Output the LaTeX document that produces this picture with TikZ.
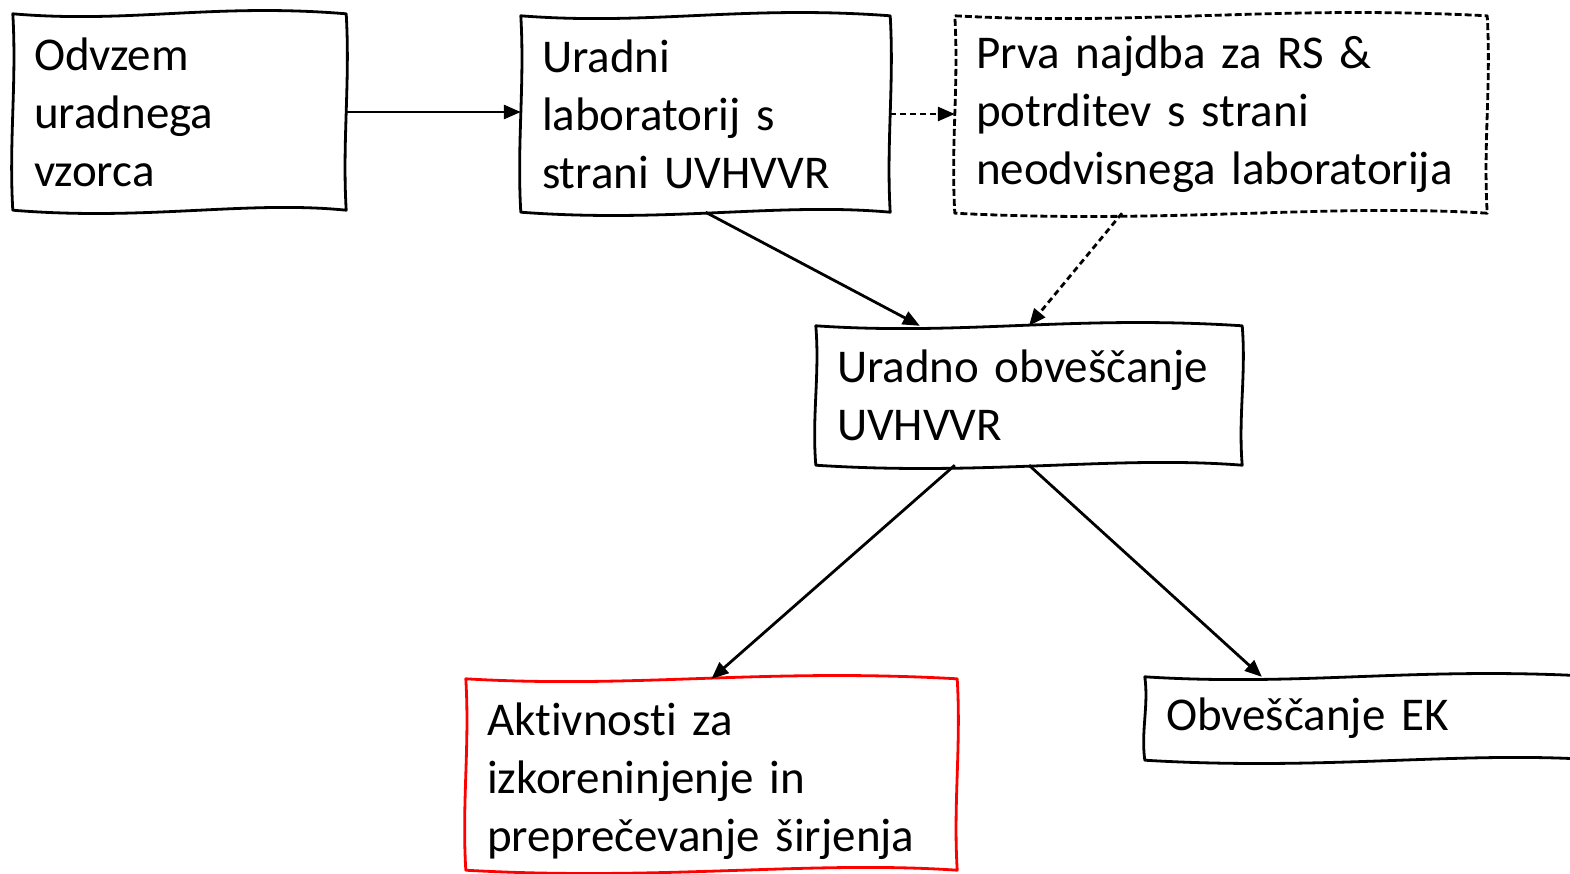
\documentclass[tikz,border=0pt]{standalone}
\usepackage{fontspec}
\setmainfont{Carlito}[Ligatures=NoCommon]
\usetikzlibrary{calc,arrows.meta}
\definecolor{boxred}{RGB}{255,0,0}
\newcommand\skbox[2][]{%
\draw[line width=2.8pt,line join=round,#1] (#2.north west)
 .. controls ($(#2.north west)!0.35!(#2.north east)+(0,10)$) and ($(#2.north west)!0.6!(#2.north east)+(0,-11)$) .. (#2.north east)
 .. controls ($(#2.north east)!0.35!(#2.south east)+(4,0)$) and ($(#2.north east)!0.65!(#2.south east)+(-4,0)$) .. (#2.south east)
 .. controls ($(#2.south east)!0.3!(#2.south west)+(0,-10)$) and ($(#2.south east)!0.6!(#2.south west)+(0,11)$) .. (#2.south west)
 .. controls ($(#2.south west)!0.35!(#2.north west)+(-4,0)$) and ($(#2.south west)!0.65!(#2.north west)+(4,0)$) .. (#2.north west) -- cycle;}
\begin{document}
\begin{tikzpicture}[x=1pt,y=-1pt,
  txt/.style={draw=none,inner xsep=21pt,inner ysep=0pt,align=left,
    font=\fontsize{47}{58}\selectfont},
  conn/.style={line width=2.8pt,-{Triangle[length=17pt,width=14pt]}},
  dconn/.style={conn,dash pattern=on 6pt off 4pt}]
\useasboundingbox (0,0) rectangle (1570,873);
\clip (0,0) rectangle (1570,873);
\node[txt,text width=291pt,minimum height=196pt] (a) at (179.5,112) {Odvzem\\uradnega\\vzorca};
\node[txt,text width=327pt,minimum height=196pt] (b) at (705.5,114) {Uradni\\laboratorij s\\strani UVHVVR};
\node[txt,text width=490pt,minimum height=197pt] (c) at (1221,114.5) {Prva najdba za RS \&\\potrditev s strani\\neodvisnega laboratorija};
\node[txt,text width=384pt,minimum height=139pt] (d) at (1029,395.5) {Uradno obveščanje\\UVHVVR};
\node[draw=none,inner sep=0pt,minimum width=491pt,minimum height=191pt] (e) at (711.5,774.5) {};
\node[txt,text width=449pt] (et) at ($(e.center)+(0,7)$) {Aktivnosti za\\izkoreninjenje in\\preprečevanje širjenja};
\node[txt,text width=413pt,minimum height=83pt] (f) at (1372.5,718.5) {Obveščanje EK};
\skbox{a}
\skbox{b}
\skbox[dash pattern=on 7pt off 3pt]{c}
\skbox{d}
\skbox[draw=boxred]{e}
\skbox{f}
\draw[conn] (a.east) -- (a.east -| b.west);
\draw[dconn] (b.east) -- (b.east -| c.west);
\draw[conn] (b.south) -- ($(d.north west)!0.244!(d.north east)$);
\draw[dconn] ($(c.south west)!0.314!(c.south east)$) -- (d.north);
\draw[conn] ($(d.south west)!0.326!(d.south east)$) -- (e.north);
\draw[conn] (d.south) -- ($(f.north west)!0.257!(f.north east)$);
\end{tikzpicture}
\end{document}
